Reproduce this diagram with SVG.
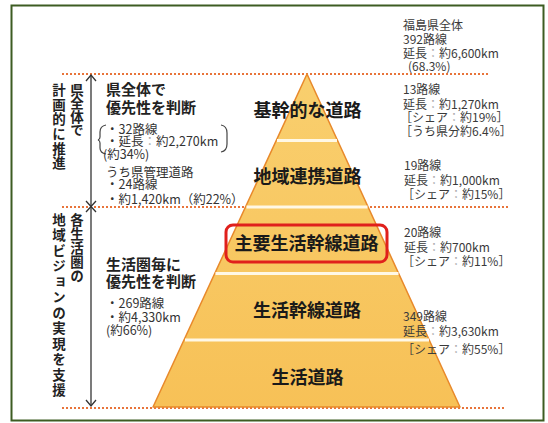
<svg xmlns="http://www.w3.org/2000/svg" width="548" height="423" viewBox="0 0 548 423">
<style>
  .jp { font-family: "Noto Sans CJK JP", "Noto Sans", sans-serif; }
  .layer { font-size: 18px; font-weight: 700; fill: #1a1a1a; text-anchor: middle; }
  .head { font-size: 15px; font-weight: 700; fill: #222; }
  .note { font-size: 12.5px; fill: #333; }
  .side { font-size: 12px; fill: #3a3a3a; }
  .col { font-size: 13.5px; font-weight: 700; fill: #222; writing-mode: vertical-rl; }
  .dim { fill: #aaa; }
  .dots { stroke: #e8743a; stroke-width: 2; stroke-dasharray: 2 2; fill: none; }
  .band { stroke: #fff8e6; stroke-width: 3; }
  .arrow { stroke: #333; stroke-width: 1.3; fill: none; }
</style>
<defs>
  <linearGradient id="pyr" x1="0" y1="0" x2="0" y2="1">
    <stop offset="0" stop-color="#f9cf6e"/>
    <stop offset="1" stop-color="#f7c157"/>
  </linearGradient>
</defs>
<rect x="0" y="0" width="548" height="423" fill="#ffffff"/>
<rect x="11.5" y="5.5" width="532" height="415" fill="#ffffff" stroke="#3d5c22" stroke-width="2"/>

<g id="connectors">
  <line class="dots" x1="62" y1="74" x2="490" y2="74"/>
  <line class="dots" x1="62" y1="207" x2="508" y2="207"/>
  <line class="dots" x1="62" y1="408" x2="505" y2="408"/>
  <line class="arrow" x1="91" y1="75" x2="91" y2="406"/>
  <polyline class="arrow" points="86,81 91,75 96,81"/>
  <polyline class="arrow" points="86,201 91,206.5 96,201"/>
  <polyline class="arrow" points="86,212 91,206.5 96,212"/>
  <polyline class="arrow" points="86,400 91,406 96,400"/>
</g>

<g id="pyramid">
  <polygon points="307,74 460,407 153,407" fill="url(#pyr)" stroke="#e8892b" stroke-width="1.5" stroke-linejoin="round"/>
  <line class="band" x1="277" y1="140.5" x2="337" y2="140.5"/>
  <line class="band" x1="246.5" y1="207" x2="367.5" y2="207"/>
  <line class="band" x1="215.5" y1="273.5" x2="398.5" y2="273.5"/>
  <line class="band" x1="185" y1="340" x2="429" y2="340"/>
</g>

<g id="node-kikan"><text class="jp layer" x="307.5" y="117">基幹的な道路</text></g>
<g id="node-chiiki"><text class="jp layer" x="307.5" y="183">地域連携道路</text></g>
<g id="node-shuyou">
  <rect x="226" y="225" width="161" height="37" rx="7" fill="none" stroke="#e0201c" stroke-width="3"/>
  <text class="jp layer" x="306.5" y="250">主要生活幹線道路</text>
</g>
<g id="node-seikatsukansen"><text class="jp layer" x="307" y="317">生活幹線道路</text></g>
<g id="node-seikatsu"><text class="jp layer" x="307.5" y="383.5">生活道路</text></g>

<g id="left-vertical-upper">
  <text class="jp col" x="77" y="83" textLength="54" lengthAdjust="spacing">県全体で</text>
  <text class="jp col" x="59" y="83" textLength="87" lengthAdjust="spacing">計画的に推進</text>
</g>
<g id="left-vertical-lower">
  <text class="jp col" x="77" y="213" textLength="70" lengthAdjust="spacing">各生活圏の</text>
  <text class="jp col" x="59" y="213" textLength="184" lengthAdjust="spacing">地域ビジョンの実現を支援</text>
</g>

<g id="left-upper">
  <text class="jp head"><tspan x="106" y="95">県全体で</tspan><tspan x="106" y="113">優先性を判断</tspan></text>
  <path d="M106,125 Q100,126 100,132 L100,137 Q100,139.5 98,140 Q100,140.5 100,143 L100,148 Q100,153 106,154" fill="none" stroke="#444" stroke-width="1.2"/>
  <text class="jp note"><tspan x="106" y="133.5">・32路線</tspan><tspan x="106" y="145.5">・延長<tspan class="dim">：</tspan>約2,270km</tspan><tspan x="103" y="158.5">(約34%)</tspan></text>
  <path d="M221,125 Q227,126 227,133 L227,144 Q227,151 221,152" fill="none" stroke="#444" stroke-width="1.2"/>
  <text class="jp note"><tspan x="106" y="177">うち県管理道路</tspan><tspan x="106" y="189">・24路線</tspan><tspan x="106" y="204">・約1,420km（約22%）</tspan></text>
</g>

<g id="left-lower">
  <text class="jp head"><tspan x="106" y="269.5">生活圏毎に</tspan><tspan x="106" y="286.5">優先性を判断</tspan></text>
  <text class="jp note"><tspan x="106" y="307.5">・269路線</tspan><tspan x="106" y="321.5">・約4,330km</tspan><tspan x="106" y="334.5">(約66%)</tspan></text>
</g>

<g id="right-total">
  <text class="jp side"><tspan x="403" y="29.5">福島県全体</tspan><tspan x="403" y="44">392路線</tspan><tspan x="403" y="58">延長<tspan class="dim">：</tspan>約6,600km</tspan><tspan x="408" y="71">(68.3%)</tspan></text>
</g>
<g id="right-kikan">
  <text class="jp side"><tspan x="403" y="94">13路線</tspan><tspan x="403" y="108.5">延長<tspan class="dim">：</tspan>約1,270km</tspan><tspan x="400" y="122">［シェア<tspan class="dim">：</tspan>約19%］</tspan><tspan x="400" y="136">［うち県分約6.4%］</tspan></text>
</g>
<g id="right-chiiki">
  <text class="jp side"><tspan x="404" y="169.5">19路線</tspan><tspan x="404" y="185">延長<tspan class="dim">：</tspan>約1,000km</tspan><tspan x="402" y="198.5">［シェア<tspan class="dim">：</tspan>約15%］</tspan></text>
</g>
<g id="right-shuyou">
  <text class="jp side"><tspan x="404" y="236.5">20路線</tspan><tspan x="404" y="251.5">延長<tspan class="dim">：</tspan>約700km</tspan><tspan x="402" y="265.5">［シェア<tspan class="dim">：</tspan>約11%］</tspan></text>
</g>
<g id="right-seikatsu">
  <text class="jp side"><tspan x="403" y="320.5">349路線</tspan><tspan x="403" y="336">延長<tspan class="dim">：</tspan>約3,630km</tspan><tspan x="402" y="354">［シェア<tspan class="dim">：</tspan>約55%］</tspan></text>
</g>
</svg>
